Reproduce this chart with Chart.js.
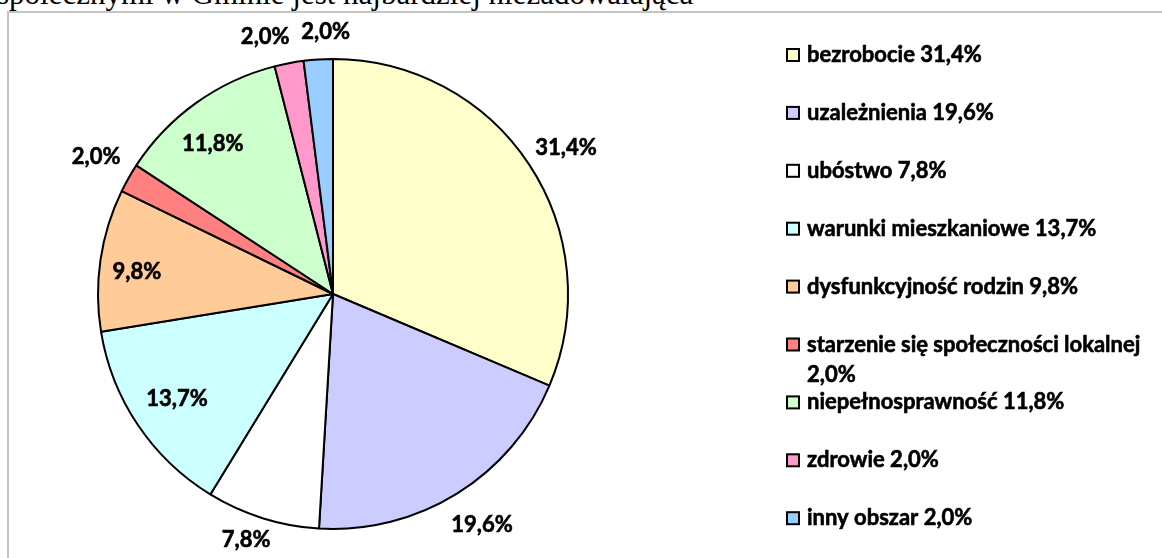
<!DOCTYPE html>
<html>
<head>
<meta charset="utf-8">
<script src="https://cdn.jsdelivr.net/npm/chart.js@4/dist/chart.umd.min.js"></script>
<style>
    body { margin: 0; background: #fff; width: 1162px; height: 558px; overflow: hidden; position: relative; }
    #tytul { position: absolute; left: -3px; top: -24px; font-family: "Liberation Serif", serif; font-size: 31px; white-space: nowrap; color: #000; }
    #ramka { position: absolute; left: 7px; top: 11px; width: 1170px; height: 570px; border: 2px solid #c4c4c4; background: #fff; }
    #wykres { position: absolute; left: 0; top: 0; }
</style>
</head>
<body>
<div id="tytul">społecznymi w Gminie jest najbardziej niezadowalająca</div>
<div id="ramka"><canvas id="wykres" width="1153" height="545"></canvas></div>
<script>
// kategorie i wartości (%)
const kategorie = [
    "bezrobocie",
    "uzależnienia",
    "ubóstwo",
    "warunki mieszkaniowe",
    "dysfunkcyjność rodzin",
    "starzenie się społeczności lokalnej",
    "niepełnosprawność",
    "zdrowie",
    "inny obszar",
];
const wartosci = [31.4, 19.6, 7.8, 13.7, 9.8, 2.0, 11.8, 2.0, 2.0];

const kolory = ["#FFFFCC", "#CCCCFF", "#FFFFFF", "#CCFFFF", "#FFCC99", "#FF8080", "#CCFFCC", "#FF99CC", "#99CCFF"];
// odległość etykiety od środka (ułamek promienia) i przesunięcie kąta (stopnie)
const odlEtykiet = [1.17, 1.17, 1.11, 0.8, 0.84, 1.165, 0.82, 1.13, 1.115];
const przesKata = [1.5, -1, 2, 0, -2, 0.5, -3, -4, 2];

const czcionka = "bold 22px Lato";

function format(v) {
    return v.toFixed(1).replace(".", ",") + "%";
}

// tekst trochę grubszy (jak Calibri pogrubiony)
function pisz(ctx, t, x, y) {
    ctx.strokeText(t, x, y);
    ctx.fillText(t, x, y);
}

// etykiety z procentami przy wycinkach
const etykietyPlugin = {
    id: "etykiety",
    afterDatasetsDraw(chart) {
        const ctx = chart.ctx;
        const meta = chart.getDatasetMeta(0);
        ctx.save();
        ctx.font = czcionka;
        ctx.fillStyle = "#000";
        ctx.strokeStyle = "#000";
        ctx.lineWidth = 0.6;
        ctx.textAlign = "center";
        ctx.textBaseline = "middle";
        meta.data.forEach((arc, i) => {
            const p = arc.getProps(["x", "y", "startAngle", "endAngle", "outerRadius"], true);
            const kat = (p.startAngle + p.endAngle) / 2 + (przesKata[i] * Math.PI) / 180;
            const d = p.outerRadius * odlEtykiet[i];
            pisz(ctx, format(wartosci[i]), p.x + Math.cos(kat) * d, p.y + Math.sin(kat) * d);
        });
        ctx.restore();
    },
};

// legenda po prawej
const legendaPlugin = {
    id: "legenda",
    afterDraw(chart) {
        const ctx = chart.ctx;
        const x0 = 778, y0 = 42, krok = 57.9, bok = 12, maxSzer = 350;
        ctx.save();
        ctx.font = czcionka;
        ctx.textBaseline = "middle";
        ctx.textAlign = "left";
        kategorie.forEach((k, i) => {
            const y = y0 + i * krok;
            ctx.fillStyle = kolory[i];
            ctx.fillRect(x0, y - bok / 2, bok, bok);
            ctx.strokeStyle = "#000";
            ctx.lineWidth = 2;
            ctx.strokeRect(x0, y - bok / 2, bok, bok);
            // zawijanie tekstu
            const slowa = (k + " " + format(wartosci[i])).split(" ");
            let linie = [], linia = "";
            slowa.forEach((s) => {
                const proba = linia ? linia + " " + s : s;
                if (ctx.measureText(proba).width > maxSzer && linia) {
                    linie.push(linia);
                    linia = s;
                } else {
                    linia = proba;
                }
            });
            linie.push(linia);
            ctx.fillStyle = "#000";
            ctx.lineWidth = 0.6;
            linie.forEach((l, j) => pisz(ctx, l, x0 + 20, y + j * 30));
        });
        ctx.restore();
    },
};

new Chart(document.getElementById("wykres").getContext("2d"), {
    type: "pie",
    data: {
        labels: kategorie,
        datasets: [
            {
                data: wartosci,
                backgroundColor: kolory,
                borderColor: "#000",
                borderWidth: 2,
            },
        ],
    },
    options: {
        responsive: false,
        animation: false,
        layout: {
            padding: { left: 88, top: 45, right: 593, bottom: 28 },
        },
        plugins: {
            legend: { display: false },
            tooltip: { enabled: false },
        },
    },
    plugins: [etykietyPlugin, legendaPlugin],
});
</script>
</body>
</html>
